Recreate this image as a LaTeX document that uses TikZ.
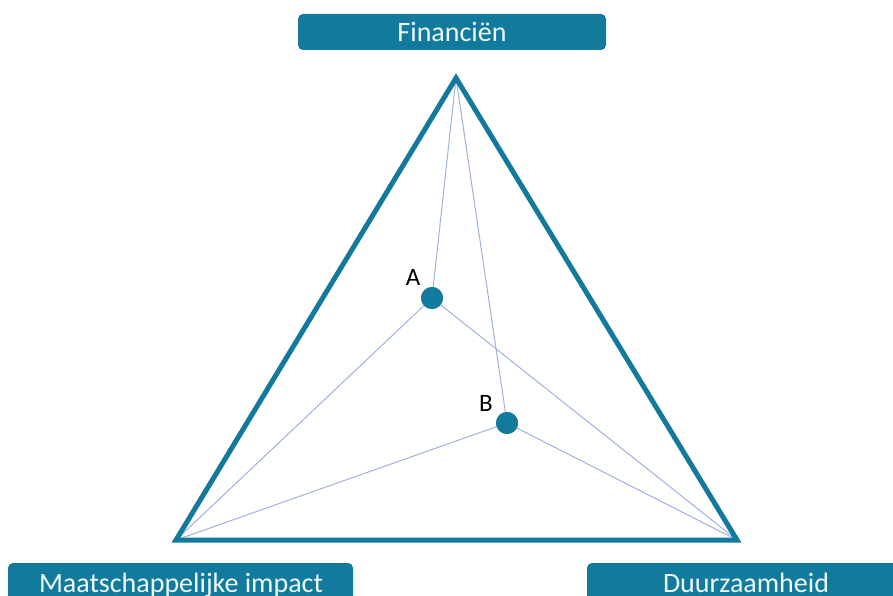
\documentclass[tikz,border=0pt]{standalone}
\usepackage{fontspec}
\setmainfont{Carlito}
\definecolor{teal}{RGB}{18,122,156}
\definecolor{thin}{RGB}{160,178,220}
\definecolor{paletext}{RGB}{238,250,252}
\begin{document}
\begin{tikzpicture}[x=1pt,y=-1pt,
  labelbox/.style={fill=teal,rounded corners=5pt},
  labeltext/.style={text=paletext,font=\fontsize{28}{32}\selectfont,inner sep=0pt,anchor=base},
  spoke/.style={draw=thin,line width=1pt},
  dot/.style={circle,fill=teal,minimum size=22pt,inner sep=0pt},
  ptlabel/.style={font=\fontsize{25}{29}\selectfont,inner sep=0pt,anchor=base}]
\useasboundingbox (0,0) rectangle (893,596);
\fill[white] (0,0) rectangle (893,596);
% corners of the triangle
\coordinate (F) at (456,78);
\coordinate (M) at (176,540);
\coordinate (D) at (737,540);
% the two points
\node[dot] (A) at (432,298) {};
\node[dot] (B) at (507,423) {};
% thin lines to the corners
\draw[spoke] (F) -- (A.center);
\draw[spoke] (M) -- (A.center);
\draw[spoke] (D) -- (A.center);
\draw[spoke] (F) -- (B.center);
\draw[spoke] (M) -- (B.center);
\draw[spoke] (D) -- (B.center);
\node[dot] at (A) {};
\node[dot] at (B) {};
\draw[teal,line width=5pt,line join=miter] (F) -- (M) -- (D) -- cycle;
\node[ptlabel] (la) at (413,285) {A};
\node[ptlabel] (lb) at (486,411) {B};
% label boxes
\fill[labelbox] (298,14) rectangle (606,50);
\node[labeltext] (tf) at (452,42) {Financiën};
\fill[labelbox] (8,563) rectangle (353,610);
\node[labeltext] (tm) at (181,592) {Maatschappelijke impact};
\fill[labelbox] (587,563) rectangle (905,610);
\node[labeltext] (td) at (746,592) {Duurzaamheid};
\end{tikzpicture}
\end{document}
